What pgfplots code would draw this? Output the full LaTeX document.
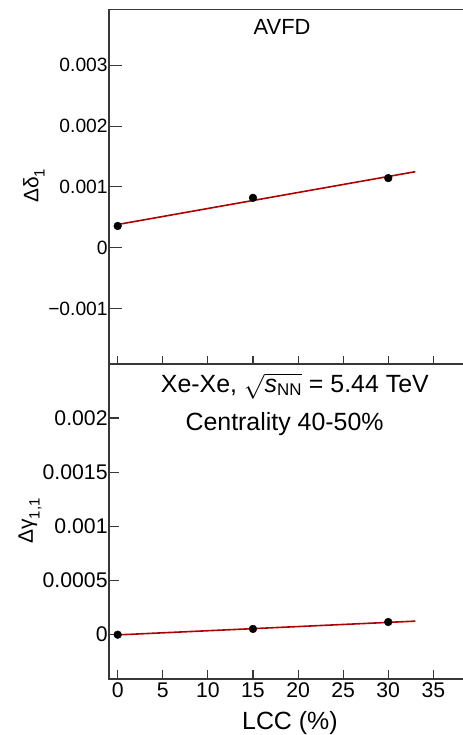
\documentclass[border=0pt]{standalone}
\usepackage{fontspec}
\setmainfont{Liberation Sans}
\usepackage{pgfplots}
\pgfplotsset{compat=1.18}
\definecolor{fitred}{RGB}{175,0,0}
\definecolor{axgray}{RGB}{55,55,55}
\tikzset{axframe/.style={axgray, line width=1.3bp}}
\pgfplotsset{
  myax/.style={
    scale only axis, anchor=south west, width=354bp,
    xmin=-0.965, xmax=38.29,
    clip=false,
    axis line style={draw=none},
    tick align=inside, xtick pos=left, ytick pos=left,
    xtick={0,5,...,35},
    scaled y ticks=false, scaled x ticks=false,
    minor tick num=0,
    tick style={axgray, line width=1.1bp},
    /pgf/number format/assume math mode=true,
    yticklabel style={inner xsep=1.2bp},
  },
}
\begin{document}
\begin{tikzpicture}
\useasboundingbox (0bp,0bp) rectangle (463bp,735bp);
% ---------------- top panel ----------------
\begin{axis}[myax,
  at={(109bp,371.7bp)}, height=354bp,
  ymin=-0.0019, ymax=0.00392,
  xticklabels={},
  ytick={-0.001,0,0.001,0.002,0.003},
  yticklabels={−0.001,0,0.001,0.002,0.003},
  yticklabel style={font=\fontsize{19.3}{20}\selectfont},
  xtick style={/pgfplots/major tick length=7.5bp},
  ytick style={/pgfplots/major tick length=13bp},
  ylabel={Δδ\raisebox{-0.55ex}{\fontsize{15}{15}\selectfont 1}},
  ylabel style={at={(axis description cs:-0.212,0.501)}, anchor=center, font=\fontsize{21}{22}\selectfont},
]
\draw[axframe] (rel axis cs:1,1) -- (rel axis cs:0,1) -- (rel axis cs:0,0) -- (rel axis cs:1,0);
\addplot[fitred, line width=1.6bp] coordinates {(0,0.000382) (33,0.00125)};
\addplot[only marks, mark=*, mark size=3.9bp, black] coordinates {
  (0,0.000358) (15,0.00082) (30,0.001145)};
\node[anchor=base, font=\fontsize{22}{24}\selectfont] at (rel axis cs:0.489,0.930) {AVFD};
\end{axis}
% ---------------- bottom panel ----------------
\begin{axis}[myax,
  at={(109bp,56bp)}, height=315bp,
  ymin=-0.000409, ymax=0.002498,
  xticklabels={0,5,10,15,20,25,30,35},
  ytick={0,0.0005,0.001,0.0015,0.002},
  yticklabels={0,0.0005,0.001,0.0015,0.002},
  ticklabel style={font=\fontsize{21.3}{22}\selectfont},
  xtick style={/pgfplots/major tick length=9bp},
  ytick style={/pgfplots/major tick length=10bp},
  xlabel={LCC (\%)},
  xlabel style={at={(axis description cs:0.511,-0.139)}, anchor=center, font=\fontsize{25}{26}\selectfont},
  ylabel={Δγ\raisebox{-0.6ex}{\fontsize{15}{15}\selectfont 1,1}},
  ylabel style={at={(axis description cs:-0.223,0.502)}, anchor=center, font=\fontsize{21}{22}\selectfont},
]
\draw[axframe] (rel axis cs:1,1) -- (rel axis cs:0,1) -- (rel axis cs:0,0) -- (rel axis cs:1,0);
\addplot[fitred, line width=1.6bp] coordinates {(0,-0.000002) (33,0.000125)};
\addplot[only marks, mark=*, mark size=3.9bp, black] coordinates {
  (0,0.0) (15,0.000053) (30,0.000117)};
\node[anchor=base, font=\fontsize{25}{26}\selectfont] at (rel axis cs:0.525,0.911)
  {Xe-Xe, $\sqrt{\mbox{\itshape s}_{\mbox{\fontsize{17}{17}\selectfont NN}}}$ = 5.44 TeV};
\node[anchor=base, font=\fontsize{25}{26}\selectfont] at (rel axis cs:0.496,0.788) {Centrality 40-50\%};
\end{axis}
\end{tikzpicture}
\end{document}
